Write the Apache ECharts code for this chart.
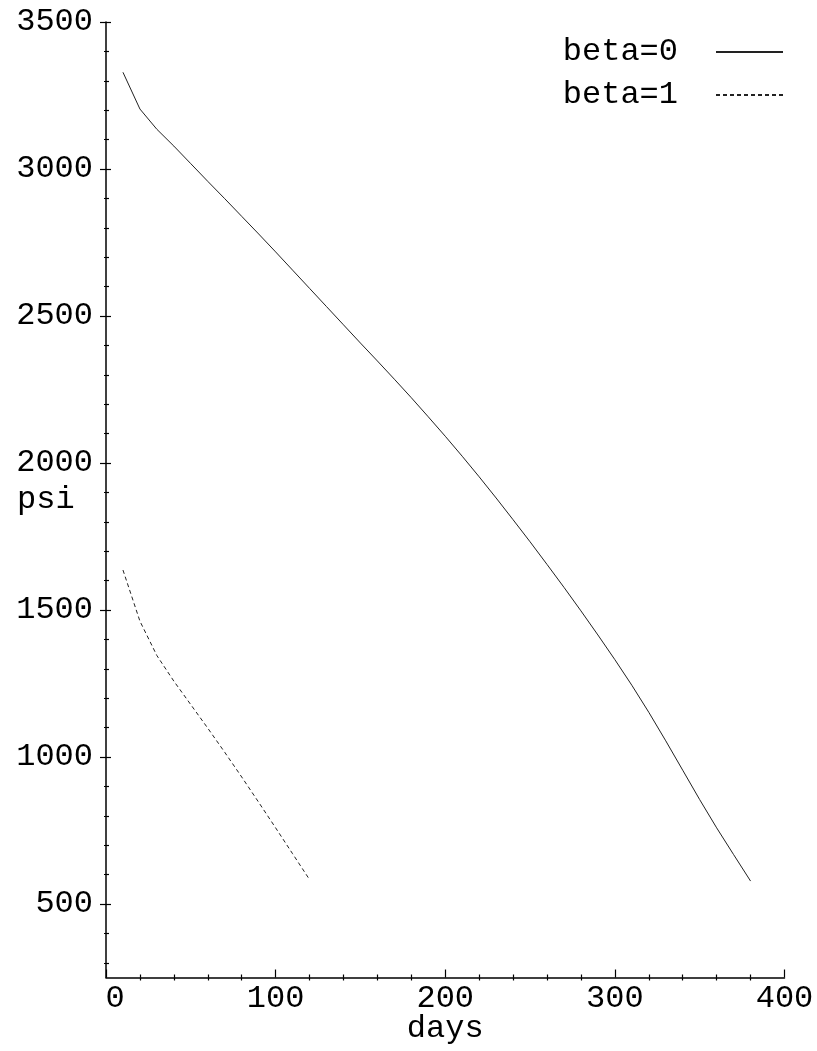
<!DOCTYPE html>
<html>
<head>
<meta charset="utf-8">
<script src="https://cdn.jsdelivr.net/npm/echarts@6/dist/echarts.min.js"></script>
<style>
  html, body { margin: 0; padding: 0; background: #fff; }
  #chart { width: 817px; height: 1051px; }
</style>
</head>
<body>
<div id="chart"></div>
<script>
// Pressure decline, beta = 0 (solid)
const daysBeta0 = [10, 20, 30, 40, 50, 60, 70, 80, 90, 100, 110, 120, 130, 140, 150, 160, 170, 180, 190,
                   200, 210, 220, 230, 240, 250, 260, 270, 280, 290, 300, 310, 320, 330, 340, 350, 360, 370, 380];
const psiBeta0 = [3329, 3204, 3135, 3078, 3018, 2958, 2899, 2839, 2779, 2718, 2656, 2594, 2532, 2470, 2408,
                  2347, 2285, 2222, 2157, 2091, 2023, 1953, 1881, 1807, 1732, 1655, 1577, 1497, 1415, 1331,
                  1244, 1152, 1055, 955, 855, 759, 668, 578];

// Pressure decline, beta = 1 (dashed)
const daysBeta1 = [10, 20, 30, 40, 50, 60, 70, 80, 90, 100, 110, 120];
const psiBeta1 = [1636, 1462, 1345, 1258, 1178, 1098, 1016, 932, 846, 759, 671, 583];

const seriesNames = ['beta=0', 'beta=1'];

// Axis ranges and tick values
const xRange = [0, 400];
const yRange = [250, 3500];
const xMajorTicks = [0, 100, 200, 300, 400];
const yMajorTicks = [500, 1000, 1500, 2000, 2500, 3000, 3500];
const yMinorTicks = [300, 400, 600, 700, 800, 900, 1100, 1200, 1300, 1400, 1600, 1700, 1800, 1900,
                     2100, 2200, 2300, 2400, 2600, 2700, 2800, 2900, 3100, 3200, 3300, 3400];
const xName = 'days';
const yName = 'psi';

const FONT = 'Liberation Mono';
const INK = '#000';

const pair = (xs, ys) => xs.map((x, i) => [x, ys[i]]);

const chart = echarts.init(document.getElementById('chart'), null, { renderer: 'canvas' });

const tickLine = { color: INK, width: 1.2 };

function yBase(extra) {
  return Object.assign({
    type: 'value',
    min: yRange[0],
    max: yRange[1],
    position: 'left',
    splitLine: { show: false },
    axisLine: { show: false, onZero: false },
    axisLabel: { show: false },
    axisTick: { show: false }
  }, extra);
}

function xBase(extra) {
  return Object.assign({
    type: 'value',
    min: xRange[0],
    max: xRange[1],
    interval: 100,
    position: 'bottom',
    splitLine: { show: false },
    axisLine: { show: false, onZero: false },
    axisLabel: { show: false },
    axisTick: { show: false }
  }, extra);
}

chart.setOption({
  animation: false,
  backgroundColor: '#fff',
  grid: { left: 106, right: 32.5, top: 22, bottom: 73.5, outerBoundsMode: 'none', containLabel: false },
  legend: {
    right: 28,
    top: 31,
    orient: 'vertical',
    align: 'right',
    itemWidth: 67,
    itemHeight: 14,
    itemGap: 11,
    data: seriesNames,
    itemStyle: { opacity: 0 },
    textStyle: { fontFamily: FONT, fontSize: 32, color: INK, padding: [0, 33, 0, 0] }
  },
  xAxis: [
    xBase({
      name: xName,
      nameLocation: 'middle',
      nameGap: 51,
      nameMoveOverlap: false,
      nameTextStyle: { fontFamily: FONT, fontSize: 32, color: INK, verticalAlign: 'middle' },
      axisLine: { show: true, onZero: false, lineStyle: { color: INK, width: 1.5 } },
      axisTick: { show: true, inside: true, length: 8, lineStyle: tickLine,
                  customValues: xMajorTicks },
      minorTick: { show: true, splitNumber: 5, length: 3, lineStyle: tickLine },
      axisLabel: {
        show: true, margin: 5, fontFamily: FONT, fontSize: 32, color: INK,
        customValues: xMajorTicks,
        formatter: v => (v === 0 ? '{z|0}' : String(v)),
        rich: { z: { fontFamily: FONT, fontSize: 32, color: INK, padding: [0, 0, 0, 18] } }
      }
    }),
    xBase({
      axisTick: { show: false, inside: false },
      minorTick: { show: true, splitNumber: 5, length: 3, lineStyle: tickLine }
    })
  ],
  yAxis: [
    yBase({
      name: yName,
      nameLocation: 'middle',
      nameRotate: 0,
      nameGap: 89,
      nameMoveOverlap: false,
      nameTextStyle: { fontFamily: FONT, fontSize: 32, color: INK, align: 'left', verticalAlign: 'middle' },
      axisLine: { show: true, onZero: false, lineStyle: { color: INK, width: 1.5 } },
      axisTick: { show: true, inside: false, length: 6, lineStyle: tickLine, customValues: yMajorTicks },
      axisLabel: { show: true, margin: 13, fontFamily: FONT, fontSize: 32, color: INK,
                   customValues: yMajorTicks, formatter: v => String(v) }
    }),
    yBase({
      axisTick: { show: true, inside: true, length: 5, lineStyle: tickLine, customValues: yMajorTicks }
    }),
    yBase({
      axisTick: { show: true, inside: false, length: 2, lineStyle: tickLine, customValues: yMinorTicks }
    }),
    yBase({
      axisTick: { show: true, inside: true, length: 3, lineStyle: tickLine, customValues: yMinorTicks }
    })
  ],
  series: [
    {
      name: seriesNames[0],
      type: 'line',
      xAxisIndex: 0,
      yAxisIndex: 0,
      data: pair(daysBeta0, psiBeta0),
      symbol: 'none',
      smooth: false,
      lineStyle: { color: '#222', width: 1 },
      itemStyle: { color: '#222' }
    },
    {
      name: seriesNames[1],
      type: 'line',
      xAxisIndex: 0,
      yAxisIndex: 0,
      data: pair(daysBeta1, psiBeta1),
      symbol: 'none',
      smooth: false,
      lineStyle: { color: '#222', width: 1, type: [4, 3] },
      itemStyle: { color: '#222' }
    }
  ]
});
</script>
</body>
</html>
